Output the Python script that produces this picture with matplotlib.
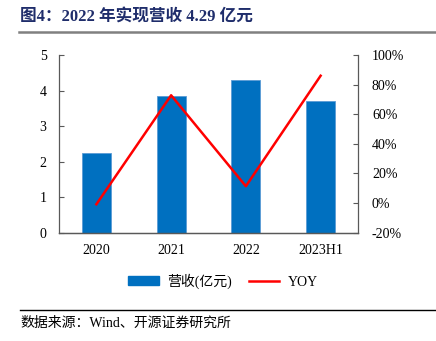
import matplotlib
matplotlib.use("Agg")
import matplotlib.pyplot as plt
from matplotlib.lines import Line2D
from matplotlib.patches import Patch

categories = ["2020", "2021", "2022", "2023H1"]
revenue = [2.23, 3.85, 4.29, 3.71]
yoy = [-0.8, 72.8, 11.4, 86.0]
left_ticks = [0, 1, 2, 3, 4, 5]
right_ticks = [-20, 0, 20, 40, 60, 80, 100]

FONTS = ["Liberation Serif", "Noto Sans CJK SC", "DejaVu Sans"]
plt.rcParams['font.family'] = FONTS

fig = plt.figure(figsize=(4.36, 3.41), dpi=100)
W, H = 436, 341
ax = fig.add_axes([59 / W, 1 - 232.7 / H, 299 / W, 177.7 / H])
ax2 = ax.twinx()

x = list(range(len(categories)))
ax.bar(x, revenue, width=0.39, color="#0070C0", edgecolor="#5B9BD5", linewidth=0.6, zorder=2)
ax2.plot(x, yoy, color="#FF0000", linewidth=1.8, zorder=3)

ax.set_xlim(-0.5, 3.5)
ax.set_ylim(0, 5)
ax2.set_ylim(-20, 100)
ax.set_yticks(left_ticks)
ax2.set_yticks(right_ticks)
ax2.set_yticklabels([f"{v}%" for v in right_ticks])
ax.set_xticks(x)
ax.set_xticklabels(categories)

axis_col = "#595959"
for a in (ax, ax2):
    a.spines["top"].set_visible(False)
    for s in ("left", "right", "bottom"):
        a.spines[s].set_color(axis_col)
        a.spines[s].set_linewidth(0.9)
ax.spines["right"].set_visible(False)
ax2.spines["left"].set_visible(False)
ax.tick_params(axis="y", direction="in", length=3.5, color=axis_col, labelsize=10, pad=9)
ax2.tick_params(axis="y", direction="in", length=3.5, color=axis_col, labelsize=10, pad=10)
ax.tick_params(axis="x", length=0, labelsize=10, pad=8)
for lab in ax.get_yticklabels() + ax2.get_yticklabels() + ax.get_xticklabels():
    lab.set_fontfamily(FONTS)

ax2.set_zorder(ax.get_zorder() + 1)
ax2.patch.set_visible(False)

# Title
fig.text(20 / W, 1 - 18 / H, "图4：2022 年实现营收 4.29 亿元", fontsize=12, fontweight="bold",
         color="#1F2D6B", va="center", ha="left", family=FONTS)
fig.add_artist(Line2D([19 / W, 1.0], [1 - 32 / H, 1 - 32 / H], color="#808080", linewidth=1.8))

# Legend
handles = [Patch(facecolor="#0070C0", edgecolor="#0070C0"),
           Line2D([0], [0], color="#FF0000", linewidth=1.8)]
leg = fig.legend(handles, ["营收(亿元)", "YOY"], loc="center", bbox_to_anchor=(223 / W, 1 - 281 / H),
                 ncol=2, frameon=False, fontsize=10, handlelength=2.2, handleheight=0.6,
                 columnspacing=1.2, handletextpad=0.6)
for t in leg.get_texts():
    t.set_fontfamily(FONTS)

# Source
fig.add_artist(Line2D([20 / W, 1.0], [1 - 309.5 / H, 1 - 309.5 / H], color="#000000", linewidth=1.0))
fig.text(20 / W, 1 - 323 / H, "数据来源：Wind、开源证券研究所", fontsize=10, color="#000000",
         va="center", ha="left", family=FONTS)

fig.savefig("out.png", dpi=100)
